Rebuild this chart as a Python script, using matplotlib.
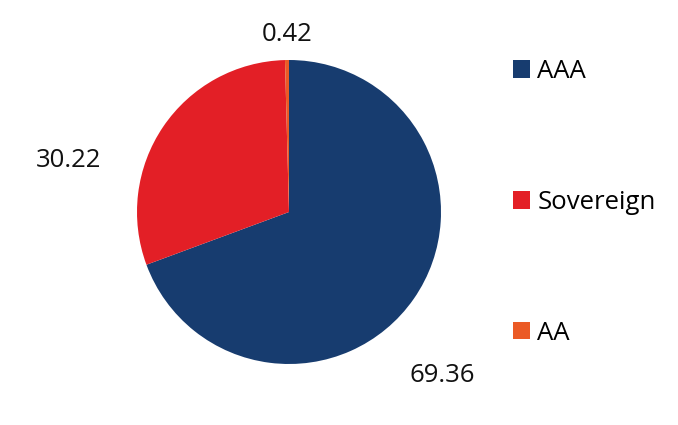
import numpy as np
import matplotlib
matplotlib.use("Agg")
import matplotlib.pyplot as plt
from matplotlib.patches import Patch

categories = ["AAA", "Sovereign", "AA"]
values = [69.36, 30.22, 0.42]
value_labels = ["69.36", "30.22", "0.42"]
colors = ["#173c6f", "#e31f26", "#eb5a25"]

plt.rcParams['font.family'] = ['Open Sans', 'DejaVu Sans']

W, H = 678, 425
fig = plt.figure(figsize=(W / 100, H / 100), dpi=100)
cx, cy, r = 289, 212, 152
ax = fig.add_axes([(cx - r) / W, (H - cy - r) / H, 2 * r / W, 2 * r / H])
wedges, _ = ax.pie(values, colors=colors, startangle=90, counterclock=False,
                   radius=1.0, wedgeprops=dict(linewidth=0))
ax.set_xlim(-1, 1)
ax.set_ylim(-1, 1)
ax.set_aspect('equal')
ax.axis('off')

FS = 18.5
# label placement (angle offset from wedge mid, radius) -- styling
label_place = [(-12.0, 1.47), (21.0, 1.49), (0.0, 1.17)]
for w, lab, (doff, rad) in zip(wedges, value_labels, label_place):
    mid = (w.theta1 + w.theta2) / 2 + doff
    x = rad * np.cos(np.deg2rad(mid))
    y = rad * np.sin(np.deg2rad(mid))
    ax.text(x, y, lab, ha='center', va='center', fontsize=FS, color='#111111',
            clip_on=False)

handles = [Patch(facecolor=c, edgecolor='none') for c in colors]
fig.legend(handles, categories, loc='upper left',
           bbox_to_anchor=(513 / W, 1 - 59 / H), bbox_transform=fig.transFigure,
           frameon=False, fontsize=FS, handlelength=0.66, handleheight=0.66,
           handletextpad=0.28, labelspacing=4.12, borderpad=0, borderaxespad=0)

fig.savefig("out.png", dpi=100)
